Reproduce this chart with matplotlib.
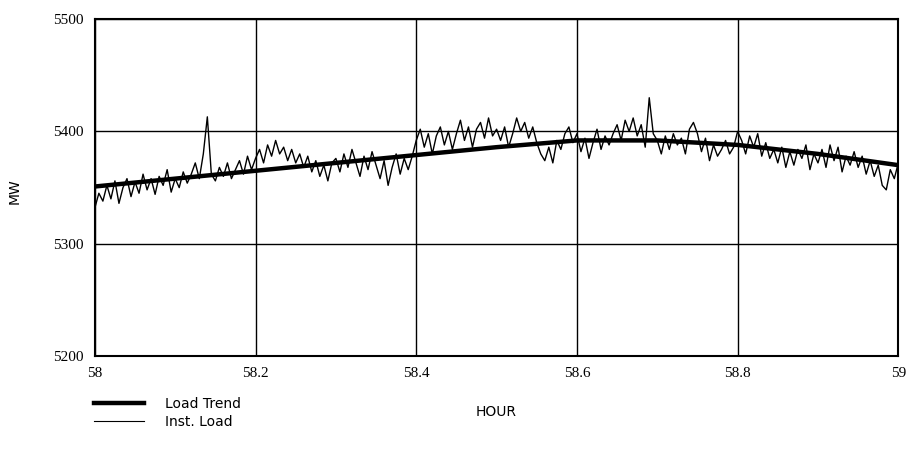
import numpy as np
import matplotlib
matplotlib.use('Agg')
import matplotlib.pyplot as plt
from matplotlib.lines import Line2D

# load trend (hour, MW)
trend_hour = [58.0, 58.1, 58.2, 58.3, 58.4, 58.5, 58.6, 58.7, 58.8, 58.9, 59.0]
trend_mw = [5351, 5358, 5365, 5372, 5379, 5386, 5392, 5392, 5388, 5380, 5370]

# instantaneous load, sampled every 0.005 h from 58.0 to 59.0
inst_start = 58.0
inst_step = 0.005
inst_mw = [
  5332, 5345, 5338, 5352, 5340, 5356, 5336, 5350, 5358, 5342,
  5355, 5345, 5362, 5348, 5358, 5344, 5360, 5352, 5366, 5346,
  5358, 5350, 5364, 5354, 5362, 5372, 5358, 5380, 5413, 5362,
  5356, 5368, 5360, 5372, 5358, 5366, 5374, 5362, 5378, 5366,
  5376, 5384, 5372, 5388, 5378, 5392, 5380, 5386, 5374, 5384,
  5372, 5380, 5368, 5378, 5364, 5374, 5360, 5370, 5356, 5372,
  5376, 5364, 5380, 5368, 5384, 5372, 5360, 5378, 5366, 5382,
  5370, 5358, 5374, 5352, 5368, 5380, 5362, 5376, 5366, 5378,
  5392, 5402, 5386, 5398, 5380, 5396, 5404, 5388, 5400, 5384,
  5398, 5410, 5392, 5404, 5386, 5402, 5408, 5394, 5412, 5396,
  5402, 5392, 5404, 5386, 5398, 5412, 5400, 5408, 5394, 5404,
  5390, 5380, 5374, 5386, 5372, 5392, 5384, 5398, 5404, 5390,
  5398, 5382, 5394, 5376, 5390, 5402, 5384, 5396, 5388, 5398,
  5406, 5392, 5410, 5400, 5412, 5396, 5406, 5386, 5430, 5398,
  5392, 5380, 5396, 5384, 5398, 5388, 5394, 5380, 5402, 5408,
  5398, 5382, 5394, 5374, 5388, 5378, 5384, 5392, 5380, 5386,
  5400, 5392, 5380, 5396, 5386, 5398, 5378, 5390, 5376, 5384,
  5372, 5386, 5368, 5382, 5370, 5384, 5376, 5388, 5366, 5380,
  5372, 5384, 5368, 5388, 5374, 5386, 5364, 5378, 5370, 5382,
  5368, 5378, 5362, 5374, 5360, 5370, 5352, 5348, 5366, 5358,
  5372,
]
inst_hour = inst_start + inst_step * np.arange(len(inst_mw))

x_ticks = [58, 58.2, 58.4, 58.6, 58.8, 59]
x_labels = ['58', '58.2', '58.4', '58.6', '58.8', '59']
y_ticks = [5200, 5300, 5400, 5500]

fig = plt.figure(figsize=(9.12, 4.65), dpi=100)
ax = fig.add_axes([0.104, 0.234, 0.881, 0.725])

ax.plot(inst_hour, inst_mw, color='black', linewidth=1.0)
ax.plot(trend_hour, trend_mw, color='black', linewidth=3.2)

ax.set_xlim(58, 59)
ax.set_ylim(5200, 5500)
ax.set_xticks(x_ticks)
ax.set_xticklabels(x_labels)
ax.set_yticks(y_ticks)
ax.grid(True, color='black', linewidth=1.0)
ax.tick_params(axis='x', length=0, labelsize=11, pad=8)
ax.tick_params(axis='y', length=0, labelsize=11, pad=8)
for lbl in ax.get_xticklabels() + ax.get_yticklabels():
  lbl.set_family('Liberation Serif')
for s in ax.spines.values():
  s.set_linewidth(1.5)

ax.set_xlabel('HOUR', fontsize=10, family='DejaVu Sans', labelpad=18)
# y label placed by hand, it sits close to the left edge
fig.text(0.016, 0.59, 'MW', rotation=90, ha='center', va='center',
         fontsize=10, family='DejaVu Sans')

handles = [Line2D([], [], color='black', linewidth=3.2),
           Line2D([], [], color='black', linewidth=0.8)]
fig.legend(handles, ['Load Trend', 'Inst. Load'], loc='upper left',
           bbox_to_anchor=(0.103, 0.146), frameon=False, fontsize=10,
           handlelength=3.6, handletextpad=1.5, labelspacing=0.25,
           borderaxespad=0, borderpad=0)

fig.savefig('out.png', dpi=100)
